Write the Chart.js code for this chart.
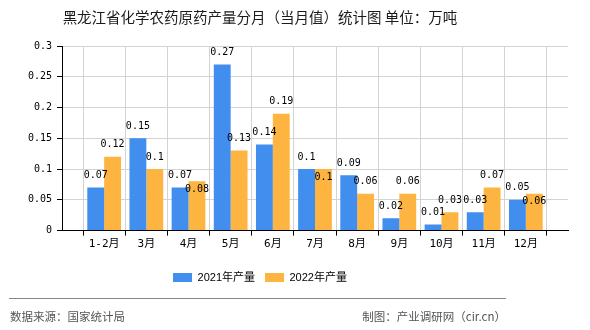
<!DOCTYPE html>
<html>
<head>
<meta charset="utf-8">
<script src="https://cdn.jsdelivr.net/npm/chart.js@4/dist/chart.umd.min.js"></script>
<style>
  html, body { margin: 0; padding: 0; background: #fff; }
  #wrap { position: relative; width: 590px; height: 330px; overflow: hidden; }
  #c { position: absolute; left: 0; top: 0; }
  .t { position: absolute; font-family: "Noto Sans CJK SC", sans-serif; white-space: nowrap; }
  #title { left: 0; width: 520px; top: 8px; text-align: center; font-size: 14.5px; line-height: 18px; color: #1a1a1a; }
  #sep { position: absolute; left: 9px; top: 298px; width: 497px; height: 1px; background: #888; }
  #src { left: 10px; top: 309px; font-size: 11.5px; line-height: 14px; color: #555; }
  #by { left: 0; width: 506px; top: 309px; text-align: right; font-size: 11.5px; line-height: 14px; color: #555; }
</style>
</head>
<body>
<div id="wrap">
  <canvas id="c" width="590" height="330"></canvas>
  <div id="title" class="t">黑龙江省化学农药原药产量分月（当月值）统计图 单位：万吨</div>
  <div id="sep"></div>
  <div id="src" class="t">数据来源：国家统计局</div>
  <div id="by" class="t">制图：产业调研网（cir.cn）</div>
</div>
<script>
const categories = ['1-2月', '3月', '4月', '5月', '6月', '7月', '8月', '9月', '10月', '11月', '12月'];
const series2021 = [0.07, 0.15, 0.07, 0.27, 0.14, 0.1, 0.09, 0.02, 0.01, 0.03, 0.05];
const series2022 = [0.12, 0.1, 0.08, 0.13, 0.19, 0.1, 0.06, 0.06, 0.03, 0.07, 0.06];
const seriesNames = ['2021年产量', '2022年产量'];
const yTicks = [0, 0.05, 0.1, 0.15, 0.2, 0.25, 0.3];

const labels = [''].concat(categories, ['']);
const pad = arr => [null].concat(arr, [null]);

const monoFont = '"DejaVu Sans Mono", "Noto Sans CJK SC", monospace';

const dataLabels = {
  id: 'dataLabels',
  afterDatasetsDraw(chart) {
    const ctx = chart.ctx;
    const m0 = chart.getDatasetMeta(0), m1 = chart.getDatasetMeta(1);
    const d0 = chart.data.datasets[0].data, d1 = chart.data.datasets[1].data;
    ctx.save();
    ctx.font = '10px ' + monoFont;
    ctx.fillStyle = '#000';
    ctx.textAlign = 'center';
    ctx.textBaseline = 'middle';
    for (let i = 0; i < labels.length; i++) {
      if (d0[i] == null) continue;
      const b0 = m0.data[i], b1 = m1.data[i];
      const y0 = b0.y - 12;
      let y1 = b1.y - 12;
      if (Math.abs(y1 - y0) < 12) y1 = b1.y + 8;
      ctx.fillText(String(d0[i]), b0.x, y0);
      ctx.fillText(String(d1[i]), b1.x, y1);
    }
    ctx.restore();
  }
};

const legendShift = {
  id: 'legendShift',
  afterLayout(chart) {
    const lg = chart.legend;
    if (!lg) return;
    const target = 265;
    const cur = (lg.left + lg.right + lg.options.labels.padding) / 2;
    const dx = target - cur;
    lg.left += dx; lg.right += dx;
  }
};

new Chart(document.getElementById('c'), {
  type: 'bar',
  data: {
    labels: labels,
    datasets: [
      { label: seriesNames[0], data: pad(series2021), backgroundColor: '#428EEE' },
      { label: seriesNames[1], data: pad(series2022), backgroundColor: '#FDB440' }
    ]
  },
  options: {
    responsive: false,
    animation: false,
    events: [],
    layout: { padding: { left: 0, right: 22, top: 46, bottom: 37 } },
    datasets: { bar: { categoryPercentage: 0.8, barPercentage: 1.0 } },
    scales: {
      x: {
        offset: false,
        grid: { color: '#d3d3d3', tickColor: '#000', tickLength: 5, lineWidth: 1 },
        border: { color: '#000', width: 1 },
        ticks: { autoSkip: false, maxRotation: 0, padding: 2, color: '#000', font: { size: 11, family: monoFont } }
      },
      y: {
        min: 0, max: 0.3,
        afterBuildTicks(scale) { scale.ticks = yTicks.map(v => ({ value: v })); },
        afterFit(scale) { scale.width = 62; },
        grid: { color: '#d3d3d3', tickColor: '#000', tickLength: 5 },
        border: { color: '#000', width: 1 },
        ticks: { padding: 5, color: '#000', font: { size: 10, family: monoFont }, callback: v => String(v) }
      }
    },
    plugins: {
      title: { display: false },
      tooltip: { enabled: false },
      legend: {
        position: 'bottom',
        title: { display: true, text: '', padding: { top: 8, bottom: 0 }, font: { size: 1 } },
        labels: { boxWidth: 19, boxHeight: 9, padding: 10, color: '#000', font: { size: 11, family: '"Liberation Sans", "Noto Sans CJK SC", sans-serif' } }
      }
    }
  },
  plugins: [dataLabels, legendShift]
});
</script>
</body>
</html>
